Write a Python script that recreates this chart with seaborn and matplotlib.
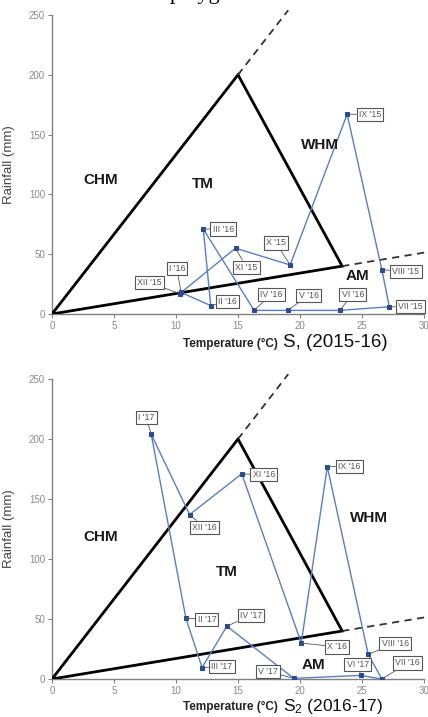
import matplotlib
matplotlib.use("Agg")
import matplotlib.pyplot as plt
import seaborn as sns

sns.set_theme(style="ticks")
plt.rcParams['font.family'] = ['Liberation Sans', 'DejaVu Sans']
plt.rcParams['mathtext.default'] = 'regular'

# 2015-16 climograph (S1)
months_15 = ["VII '15", "VIII '15", "IX '15", "X '15", "XI '15", "XII '15",
             "I '16", "II '16", "III '16", "IV '16", "V '16", "VI '16"]
temp_15 = [27.2, 26.6, 23.8, 19.2, 14.8, 10.3, 10.4, 12.8, 12.2, 16.3, 19.0, 23.2]
rain_15 = [6, 37, 167, 41, 55, 17, 18, 7, 71, 3, 3, 3]

# 2016-17 climograph (S2)
months_16 = ["VII '16", "VIII '16", "IX '16", "X '16", "XI '16", "XII '16",
             "I '17", "II '17", "III '17", "IV '17", "V '17", "VI '17"]
temp_16 = [26.6, 25.5, 22.2, 20.1, 15.3, 11.1, 8.0, 10.8, 12.1, 14.1, 19.5, 24.9]
rain_16 = [0, 20.5, 177, 30, 171, 137, 204, 50.6, 9.5, 44, 0.5, 3]

# climate polygon vertices (temperature, rainfall)
tri_t = [0, 15, 23.4, 0]
tri_r = [0, 200, 40, 0]

regions = ["CHM", "TM", "WHM", "AM"]
reg_pos_15 = [(3.9, 112), (12.2, 109), (21.6, 141), (24.6, 32)]
reg_pos_16 = [(3.9, 118), (14.1, 89), (25.6, 134), (21.1, 12)]

# label offsets in pixels (layout only)
offs_15 = [(21, 0), (24, -2), (23, 0), (-14, 22), (11, -19), (-30, 11),
           (-4, 24), (17, 4), (20, 0), (17, 16), (21, 15), (13, 16)]
offs_16 = [(26, 16), (27, 11), (22, 0), (36, -4), (22, -1), (15, -13),
           (-5, 17), (21, -1), (20, 1), (24, 11), (-26, 7), (-3, 11)]

fig = plt.figure(figsize=(4.28, 7.17), dpi=100)
ax1 = fig.add_axes([0.1215, 0.5621, 0.8692, 0.417])
ax2 = fig.add_axes([0.1215, 0.053, 0.8692, 0.4184])

line_c = '#5a7ec6'
mark_c = '#2b4a96'
grey = '#808080'


def draw(ax, temps, rains, names, offs, reg_pos):
    # polygon
    ax.plot(tri_t, tri_r, color='black', lw=2, solid_joinstyle='miter', zorder=3)
    ax.plot([15, 15 * 254 / 200], [200, 254], color='#333333', lw=1.3,
            ls=(0, (4, 3)), clip_on=False, zorder=3)
    ax.plot([23.4, 30.2], [40, 40 * 30.2 / 23.4], color='#333333', lw=1.3,
            ls=(0, (4, 3)), clip_on=False, zorder=3)

    # monthly loop
    t = temps + temps[:1]
    r = rains + rains[:1]
    sns.lineplot(x=t, y=r, sort=False, estimator=None, ax=ax, color=line_c,
                 lw=1, marker='s', markersize=3.2, markerfacecolor=mark_c,
                 markeredgecolor=mark_c, zorder=4)

    for name, x, y, (dx, dy) in zip(names, temps, rains, offs):
        ax.annotate(name, xy=(x, y), xytext=(dx, dy), textcoords='offset pixels',
                    ha='center', va='center', fontsize=6.3, color='#555555',
                    bbox=dict(boxstyle='square,pad=0.25', fc='white',
                              ec='#555555', lw=0.8),
                    arrowprops=dict(arrowstyle='-', color='#555555', lw=0.6,
                                    shrinkA=0, shrinkB=1),
                    zorder=5)

    for name, (x, y) in zip(regions, reg_pos):
        ax.text(x, y, name, ha='center', va='center', fontsize=11,
                fontweight='bold', color='#1a1a1a', zorder=6)

    ax.set_xlim(0, 30)
    ax.set_ylim(0, 250)
    ax.set_xticks(range(0, 31, 5))
    ax.set_yticks(range(0, 251, 50))
    sns.despine(ax=ax)
    for s in ['left', 'bottom']:
        ax.spines[s].set_color(grey)
        ax.spines[s].set_linewidth(1)
    ax.tick_params(axis='both', direction='out', length=3, width=0.8,
                   color=grey, labelcolor='#8a8a8a', labelsize=7, pad=2)
    ax.set_ylabel("Rainfall (mm)", fontsize=9.5, color='#444444', labelpad=10)
    ax.set_xlabel("")


draw(ax1, temp_15, rain_15, months_15, offs_15, reg_pos_15)
draw(ax2, temp_16, rain_16, months_16, offs_16, reg_pos_16)

# axis captions
fig.text(278 / 428, 1 - 347 / 717, "Temperature (°C)", ha='right', va='baseline',
         fontsize=8.5, fontweight='bold', color='#222222')
fig.text(283 / 428, 1 - 347 / 717, "S, (2015-16)", ha='left', va='baseline',
         fontsize=13.5, color='#111111')
fig.text(278 / 428, 1 - 710 / 717, "Temperature (°C)", ha='right', va='baseline',
         fontsize=8.5, fontweight='bold', color='#222222')
fig.text(283 / 428, 1 - 711 / 717, "S$_2$ (2016-17)", ha='left', va='baseline',
         fontsize=12.5, color='#111111')

# cut-off caption text at the very top
fig.text(170 / 428, 1.0 + 1 / 717, "polygon", ha='left', va='baseline',
         fontsize=16, family=['Liberation Serif', 'DejaVu Serif'], color='black')

fig.savefig("out.png", dpi=100)
